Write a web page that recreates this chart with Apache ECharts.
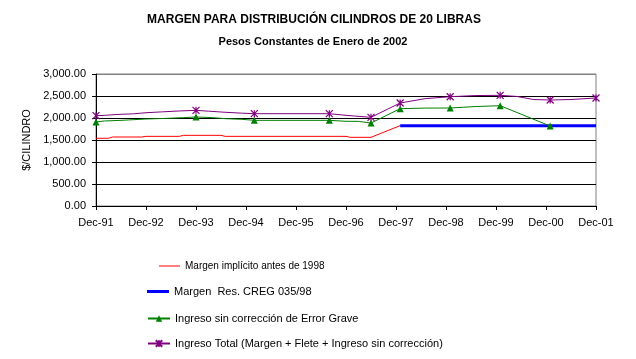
<!DOCTYPE html>
<html><head><meta charset="utf-8">
<script src="https://cdn.jsdelivr.net/npm/echarts@6/dist/echarts.min.js"></script>
<style>html,body{margin:0;padding:0;background:#fff}#c{width:636px;height:359px}</style>
</head><body><div id="c"></div>
<script>
// x values are months after Dec-91
const tickLabels = ["Dec-91","Dec-92","Dec-93","Dec-94","Dec-95","Dec-96","Dec-97","Dec-98","Dec-99","Dec-00","Dec-01"];
const seriesNames = ["Margen implícito antes de 1998","Margen  Res. CREG 035/98","Ingreso sin corrección de Error Grave","Ingreso Total (Margen + Flete + Ingreso sin corrección)"];

const redMonths  = [0,3,4,11,12,20,21,30,31,60,61,66,73];
const redValues  = [1538,1540,1568,1568,1583,1583,1606,1606,1583,1583,1561,1561,1826];

const blueMonths = [73,120];
const blueValues = [1826,1826];

const greenMonths  = [0,2,6,12,17,21,24,28,31,35,38,56,60,63,66,73,79,85,91,97,109];
const greenValues  = [1909,1932,1947,1977,1992,2008,2023,2008,1985,1970,1947,1947,1925,1924,1886,2212,2225,2227,2260,2280,1818];
const greenMarkers = [0,24,38,56,66,73,85,97,109];

const purpleMonths  = [0,2,5,9,12,16,20,24,27,31,35,38,56,59,62,66,73,79,85,91,97,101,105,109,114,120];
const purpleValues  = [2053,2060,2080,2095,2120,2140,2160,2174,2155,2130,2110,2098,2098,2070,2045,2015,2341,2440,2484,2510,2515,2490,2420,2409,2420,2455];
const purpleMarkers = [0,24,38,56,66,73,85,97,109,120];

function build(months, values, markers) {
  return months.map((m, i) => {
    const d = { value: [m, values[i]] };
    if (!markers || markers.indexOf(m) < 0) d.symbol = 'none';
    return d;
  });
}

const font = "Liberation Sans";
const chart = echarts.init(document.getElementById('c'), null, { renderer: 'canvas' });
const starPath = 'path://M0,0L10,10M10,0L0,10M5,0L5,10';
const legText = (size) => ({ fontFamily: font, fontSize: size, color: '#000' });

chart.setOption({
  animation: false,
  backgroundColor: '#fff',
  title: [
    { text: "MARGEN PARA DISTRIBUCIÓN CILINDROS DE 20 LIBRAS", left: 309, top: 9, textAlign: 'center',
      textStyle: { fontFamily: font, fontSize: 12, fontWeight: 'bold', color: '#000' } },
    { text: "Pesos Constantes de Enero de 2002", left: 308, top: 31, textAlign: 'center',
      textStyle: { fontFamily: font, fontSize: 11, fontWeight: 'bold', color: '#000' } }
  ],
  grid: { left: 96, right: 40, top: 74, bottom: 153, show: true, borderColor: '#808080', borderWidth: 1, backgroundColor: 'transparent' },
  xAxis: {
    type: 'value', min: 0, max: 120, interval: 12,
    axisLine: { lineStyle: { color: '#000', width: 1 } },
    axisTick: { show: true, length: 4, lineStyle: { color: '#000' } },
    axisLabel: { margin: 11, fontFamily: font, fontSize: 11, color: '#000',
      formatter: v => tickLabels[Math.round(v / 12)] },
    splitLine: { show: false }
  },
  yAxis: {
    type: 'value', min: 0, max: 3000, interval: 500,
    name: '$/CILINDRO', nameLocation: 'middle', nameGap: 52, nameRotate: 90,
    nameTextStyle: { fontFamily: font, fontSize: 11, color: '#000' },
    axisLine: { show: true, lineStyle: { color: '#000', width: 1 } },
    axisTick: { show: true, length: 4, lineStyle: { color: '#000' } },
    axisLabel: { margin: 10, fontFamily: font, fontSize: 11, color: '#000',
      formatter: v => v.toLocaleString('en-US', { minimumFractionDigits: 2, maximumFractionDigits: 2 }) },
    splitLine: { show: true, lineStyle: { color: ['#000','#000','#000','#000','#000','#000','#808080'], width: 1 } }
  },
  legend: [
    { data: [{ name: seriesNames[0], icon: 'rect' }], left: 159, top: 261, padding: 0, itemWidth: 21, itemHeight: 1, textStyle: legText(10) },
    { data: [{ name: seriesNames[1], icon: 'rect' }], left: 147, top: 286, padding: 0, itemWidth: 22, itemHeight: 3, textStyle: legText(11) },
    { data: [seriesNames[2]], left: 147, top: 313, padding: 0, itemWidth: 22, itemHeight: 8, textStyle: legText(11) },
    { data: [seriesNames[3]], left: 147, top: 338, padding: 0, itemWidth: 22, itemHeight: 8, textStyle: legText(11) }
  ],
  series: [
    { name: seriesNames[0], type: 'line', data: build(redMonths, redValues, null), symbol: 'none',
      lineStyle: { color: '#ff0000', width: 1 }, itemStyle: { color: '#ff0000' } },
    { name: seriesNames[1], type: 'line', data: build(blueMonths, blueValues, null), symbol: 'none',
      lineStyle: { color: '#0000ff', width: 3 }, itemStyle: { color: '#0000ff' } },
    { name: seriesNames[2], type: 'line', data: build(greenMonths, greenValues, greenMarkers), symbol: 'triangle', symbolSize: 7, showSymbol: true,
      lineStyle: { color: '#008000', width: 1 }, itemStyle: { color: '#008000' } },
    { name: seriesNames[3], type: 'line', data: build(purpleMonths, purpleValues, purpleMarkers), symbol: starPath, symbolSize: 7, showSymbol: true,
      lineStyle: { color: '#800080', width: 1 }, itemStyle: { color: '#800080', borderColor: '#800080', borderWidth: 1.2 } }
  ]
});
</script></body></html>
